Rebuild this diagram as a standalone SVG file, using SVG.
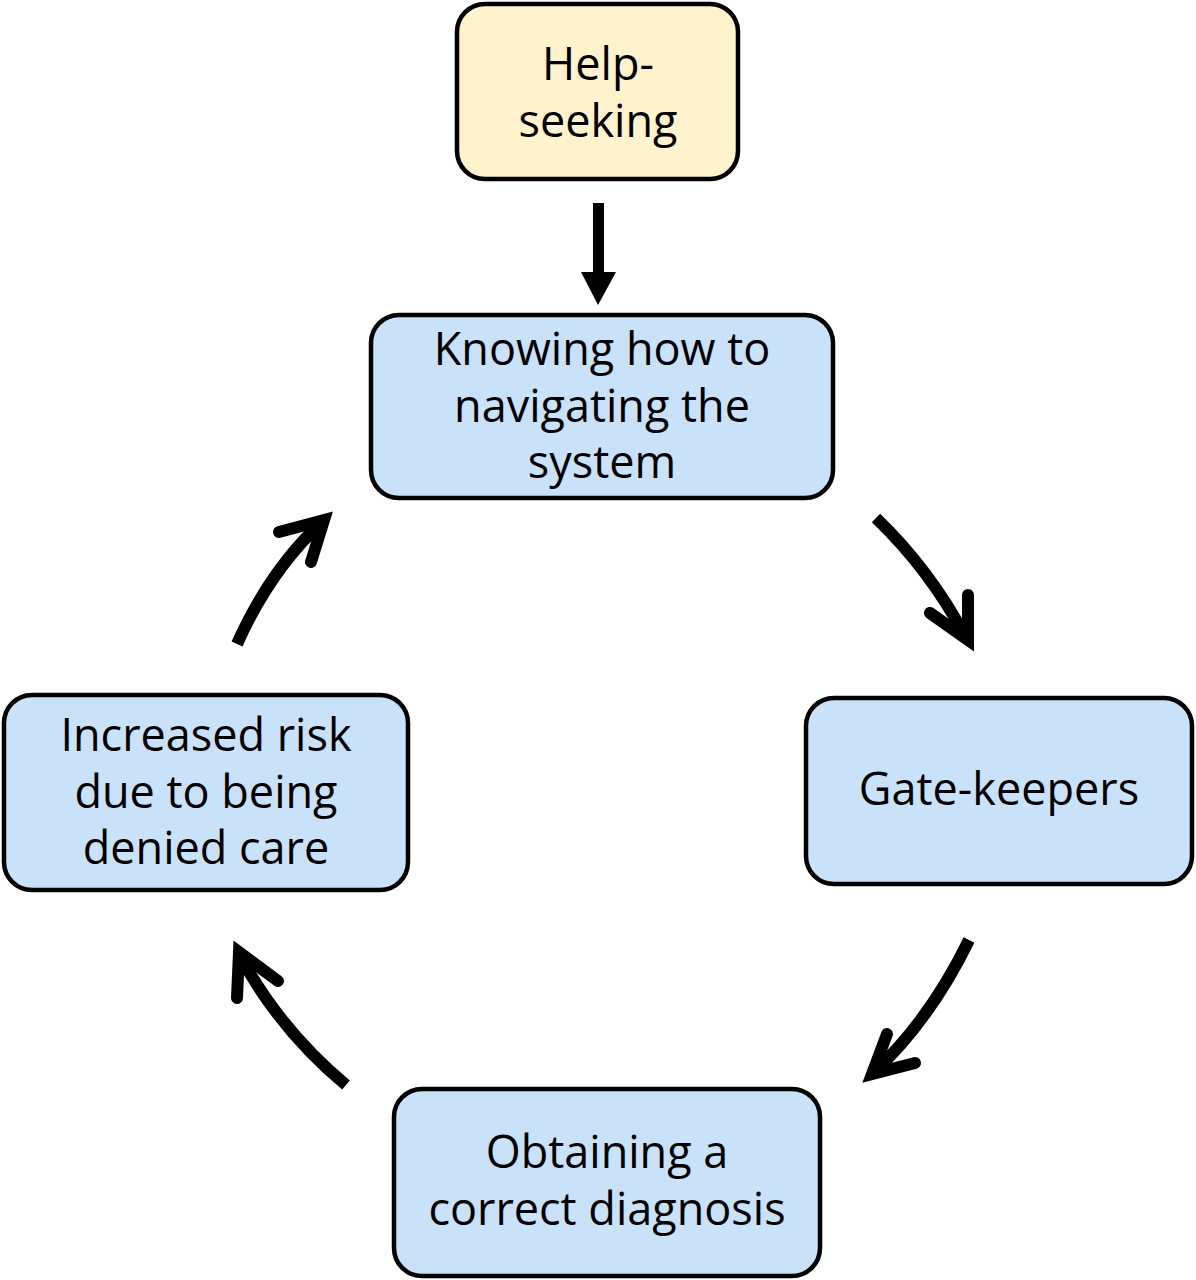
<svg xmlns="http://www.w3.org/2000/svg" width="1196" height="1280" viewBox="0 0 1196 1280">
<style>
.box{stroke:#000;stroke-width:4.5}
.y{fill:#FFF2CC}
.b{fill:#C9E2F9}
.t{font-family:"Open Sans","Liberation Sans",sans-serif;font-size:45px;fill:#000;text-anchor:middle}
.arc{fill:none;stroke:#000;stroke-width:12;stroke-linecap:butt}
.head{fill:none;stroke:#000;stroke-width:12;stroke-linecap:round;stroke-linejoin:miter;stroke-miterlimit:10}
</style>
<rect width="1196" height="1280" fill="#fff"/>
<g id="help-seeking">
<rect class="box y" x="457" y="4" width="281" height="175" rx="28"/>
<text class="t" x="598" y="80">Help-</text>
<text class="t" x="598" y="137">seeking</text>
</g>
<g id="knowing">
<rect class="box b" x="371" y="315" width="462" height="183" rx="28"/>
<text class="t" x="602" y="365">Knowing how to</text>
<text class="t" x="602" y="422">navigating the</text>
<text class="t" x="602" y="478">system</text>
</g>
<g id="gatekeepers">
<rect class="box b" x="806" y="698" width="386" height="186" rx="28"/>
<text class="t" x="999" y="805">Gate-keepers</text>
</g>
<g id="obtaining">
<rect class="box b" x="394" y="1089" width="426" height="187" rx="28"/>
<text class="t" x="607" y="1168">Obtaining a</text>
<text class="t" x="607" y="1225">correct diagnosis</text>
</g>
<g id="increased">
<rect class="box b" x="4" y="695" width="404" height="195" rx="28"/>
<text class="t" x="206" y="751">Increased risk</text>
<text class="t" x="206" y="808">due to being</text>
<text class="t" x="206" y="864">denied care</text>
</g>
<g id="connectors">
<rect x="593" y="203" width="11" height="72" fill="#000"/>
<polygon points="581,272 616,272 598,305" fill="#000"/>
<path class="arc" d="M876,518 Q930,570 965,636"/>
<polyline class="head" points="968,595 968,640 930,613"/>
<path class="arc" d="M969,940 Q930,1020 874,1072"/>
<polyline class="head" points="887,1034 872,1074 915,1063"/>
<path class="arc" d="M346,1085 Q280,1030 240,956"/>
<polyline class="head" points="237,998 239,952 278,981"/>
<path class="arc" d="M237,644 Q270,570 322,522"/>
<polyline class="head" points="279,532 324,520 311,562"/>
</g>
</svg>
